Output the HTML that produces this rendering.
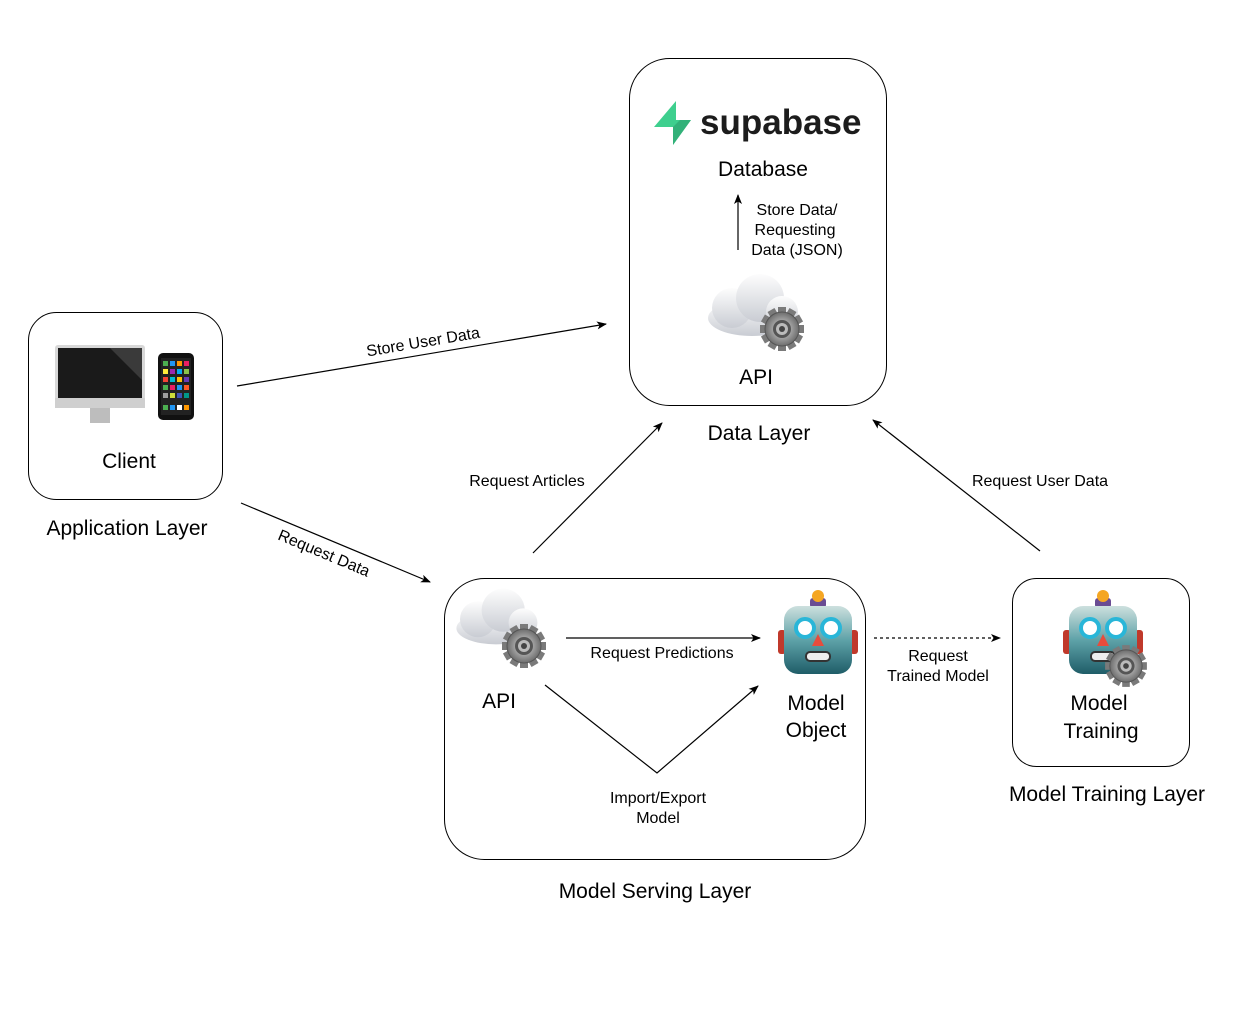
<!DOCTYPE html>
<html><head><meta charset="utf-8"><style>
html,body{margin:0;padding:0;background:#fff;}
svg{display:block;font-family:"Liberation Sans",Arial,sans-serif;}
</style></head><body>
<svg width="1250" height="1010" viewBox="0 0 1250 1010" xmlns="http://www.w3.org/2000/svg">
<defs>
<marker id="ah" markerWidth="10" markerHeight="8" refX="9" refY="4" orient="auto" markerUnits="userSpaceOnUse">
<path d="M0,0 L10,4 L0,8 L2.5,4 Z" fill="#000"/></marker>
<linearGradient id="cg" x1="0" y1="0" x2="0" y2="1"><stop offset="0" stop-color="#fdfdfd"/><stop offset="1" stop-color="#c9ccd3"/></linearGradient>
<linearGradient id="rg" x1="0" y1="0" x2="0" y2="1"><stop offset="0" stop-color="#cde0de"/><stop offset="0.5" stop-color="#5ea2a8"/><stop offset="1" stop-color="#1f5d68"/></linearGradient>
<radialGradient id="gg"><stop offset="0" stop-color="#ddd"/><stop offset="1" stop-color="#6d6d6d"/></radialGradient>
<g id="cloud">
<ellipse cx="0" cy="18" rx="44" ry="18" fill="url(#cg)"/>
<circle cx="-20" cy="8" r="20" fill="url(#cg)"/>
<circle cx="8" cy="-2" r="24" fill="url(#cg)"/>
<circle cx="30" cy="12" r="16" fill="url(#cg)"/>
</g>
<g id="gear">
<g fill="#7a7a7a">
<rect x="-4" y="-22" width="8" height="44"/><rect x="-4" y="-22" width="8" height="44" transform="rotate(30)"/><rect x="-4" y="-22" width="8" height="44" transform="rotate(60)"/><rect x="-4" y="-22" width="8" height="44" transform="rotate(90)"/><rect x="-4" y="-22" width="8" height="44" transform="rotate(120)"/><rect x="-4" y="-22" width="8" height="44" transform="rotate(150)"/>
</g>
<circle r="17" fill="url(#gg)" stroke="#555" stroke-width="1"/>
<circle r="9" fill="#555"/><circle r="6" fill="#bbb"/><circle r="3" fill="#444"/>
</g>
<g id="robot">
<rect x="-40" y="-8" width="8" height="24" rx="3" fill="#c0392b"/>
<rect x="32" y="-8" width="8" height="24" rx="3" fill="#c0392b"/>
<rect x="-8" y="-40" width="16" height="10" rx="3" fill="#6a4c93"/>
<circle cx="0" cy="-42" r="6" fill="#f5a623"/>
<rect x="-34" y="-32" width="68" height="68" rx="14" fill="url(#rg)"/>
<circle cx="-13" cy="-10" r="9" fill="#fff" stroke="#29b6d8" stroke-width="4"/>
<circle cx="13" cy="-10" r="9" fill="#fff" stroke="#29b6d8" stroke-width="4"/>
<path d="M0,-4 L6,8 L-6,8 Z" fill="#e74c3c"/>
<rect x="-12" y="14" width="24" height="9" rx="4" fill="#eee" stroke="#333" stroke-width="2"/>
</g>
</defs>

<!-- boxes -->
<rect x="28.5" y="312.5" width="194" height="187" rx="28" fill="none" stroke="#000" stroke-width="1"/>
<rect x="629.5" y="58.5" width="257" height="347" rx="40" fill="none" stroke="#000" stroke-width="1"/>
<rect x="444.5" y="578.5" width="421" height="281" rx="40" fill="none" stroke="#000" stroke-width="1"/>
<rect x="1012.5" y="578.5" width="177" height="188" rx="24" fill="none" stroke="#000" stroke-width="1"/>

<!-- client icons -->
<rect x="55" y="345" width="90" height="58" rx="3" fill="#d8d8d8"/>
<rect x="58" y="348" width="84" height="50" fill="#1a1a1a"/>
<path d="M110,348 L142,348 L142,380 Z" fill="#3a3a3a"/>
<rect x="55" y="398" width="90" height="10" fill="#cfcfcf"/>
<rect x="90" y="408" width="20" height="15" fill="#bdbdbd"/>
<rect x="158" y="353" width="36" height="67" rx="5" fill="#111"/>
<rect x="161" y="358" width="30" height="57" fill="#222"/>
<g fill="#e44">
<rect x="163" y="361" width="5" height="5" fill="#4caf50"/><rect x="170" y="361" width="5" height="5" fill="#2196f3"/><rect x="177" y="361" width="5" height="5" fill="#ff9800"/><rect x="184" y="361" width="5" height="5" fill="#e91e63"/>
<rect x="163" y="369" width="5" height="5" fill="#ffeb3b"/><rect x="170" y="369" width="5" height="5" fill="#9c27b0"/><rect x="177" y="369" width="5" height="5" fill="#03a9f4"/><rect x="184" y="369" width="5" height="5" fill="#8bc34a"/>
<rect x="163" y="377" width="5" height="5" fill="#f44336"/><rect x="170" y="377" width="5" height="5" fill="#00bcd4"/><rect x="177" y="377" width="5" height="5" fill="#ffc107"/><rect x="184" y="377" width="5" height="5" fill="#673ab7"/>
<rect x="163" y="385" width="5" height="5" fill="#4caf50"/><rect x="170" y="385" width="5" height="5" fill="#e91e63"/><rect x="177" y="385" width="5" height="5" fill="#2196f3"/><rect x="184" y="385" width="5" height="5" fill="#ff5722"/>
<rect x="163" y="393" width="5" height="5" fill="#9e9e9e"/><rect x="170" y="393" width="5" height="5" fill="#cddc39"/><rect x="177" y="393" width="5" height="5" fill="#3f51b5"/><rect x="184" y="393" width="5" height="5" fill="#009688"/>
<rect x="163" y="405" width="5" height="5" fill="#4caf50"/><rect x="170" y="405" width="5" height="5" fill="#2196f3"/><rect x="177" y="405" width="5" height="5" fill="#fff"/><rect x="184" y="405" width="5" height="5" fill="#ff9800"/>
</g>
<text x="129" y="468" font-size="21" text-anchor="middle">Client</text>
<text x="127" y="535" font-size="21" text-anchor="middle">Application Layer</text>

<!-- supabase -->
<path d="M676,101 L654,127 L673,127 L673,145 L691,120 L676,120 Z" fill="#3ecf8e"/>
<path d="M673,127 L673,145 L691,120 L680,120 Z" fill="#2b9c6a" opacity="0.6"/>
<text x="700" y="134" font-size="35" font-weight="bold" fill="#1c1c1c">supabase</text>
<text x="763" y="176" font-size="21" text-anchor="middle">Database</text>
<line x1="738" y1="250" x2="738" y2="195" stroke="#000" stroke-width="1.2" marker-end="url(#ah)"/>
<text font-size="16" text-anchor="middle"><tspan x="797" y="215">Store Data/</tspan><tspan x="795" y="235">Requesting</tspan><tspan x="797" y="255">Data (JSON)</tspan></text>
<use href="#cloud" x="752" y="300"/>
<use href="#gear" x="782" y="329"/>
<text x="756" y="384" font-size="21" text-anchor="middle">API</text>
<text x="759" y="440" font-size="21" text-anchor="middle">Data Layer</text>

<!-- serving -->
<use href="#cloud" x="496" y="612" transform="translate(496,612) scale(0.9) translate(-496,-612)"/>
<use href="#gear" x="524" y="646"/>
<text x="499" y="708" font-size="21" text-anchor="middle">API</text>
<use href="#robot" x="818" y="638"/>
<text font-size="21" text-anchor="middle"><tspan x="816" y="710">Model</tspan><tspan x="816" y="737">Object</tspan></text>
<line x1="566" y1="638" x2="760" y2="638" stroke="#000" stroke-width="1.2" marker-end="url(#ah)"/>
<text x="662" y="658" font-size="16" text-anchor="middle">Request Predictions</text>
<polyline points="545,685 657,773 758,686" fill="none" stroke="#000" stroke-width="1.2" marker-end="url(#ah)"/>
<text font-size="16" text-anchor="middle"><tspan x="658" y="803">Import/Export</tspan><tspan x="658" y="823">Model</tspan></text>
<text x="655" y="898" font-size="21" text-anchor="middle">Model Serving Layer</text>

<!-- training -->
<use href="#robot" x="1103" y="638"/>
<use href="#gear" x="1126" y="666" transform="translate(1126,666) scale(0.95) translate(-1126,-666)"/>
<text font-size="21" text-anchor="middle"><tspan x="1099" y="710">Model</tspan><tspan x="1101" y="738">Training</tspan></text>
<text x="1107" y="801" font-size="21" text-anchor="middle">Model Training Layer</text>
<line x1="874" y1="638" x2="1000" y2="638" stroke="#000" stroke-width="1.2" stroke-dasharray="3,3" marker-end="url(#ah)"/>
<text font-size="16" text-anchor="middle"><tspan x="938" y="661">Request</tspan><tspan x="938" y="681">Trained Model</tspan></text>

<!-- connectors -->
<line x1="237" y1="386" x2="606" y2="324" stroke="#000" stroke-width="1.2" marker-end="url(#ah)"/>
<text x="424" y="347" font-size="16" text-anchor="middle" transform="rotate(-9.5 424 347)">Store User Data</text>
<line x1="241" y1="503" x2="430" y2="582" stroke="#000" stroke-width="1.2" marker-end="url(#ah)"/>
<text x="322" y="558" font-size="16" text-anchor="middle" transform="rotate(22.7 322 558)">Request Data</text>
<line x1="533" y1="553" x2="662" y2="423" stroke="#000" stroke-width="1.2" marker-end="url(#ah)"/>
<text x="527" y="486" font-size="16" text-anchor="middle">Request Articles</text>
<line x1="1040" y1="551" x2="873" y2="420" stroke="#000" stroke-width="1.2" marker-end="url(#ah)"/>
<text x="1040" y="486" font-size="16" text-anchor="middle">Request User Data</text>
</svg>
</body></html>
